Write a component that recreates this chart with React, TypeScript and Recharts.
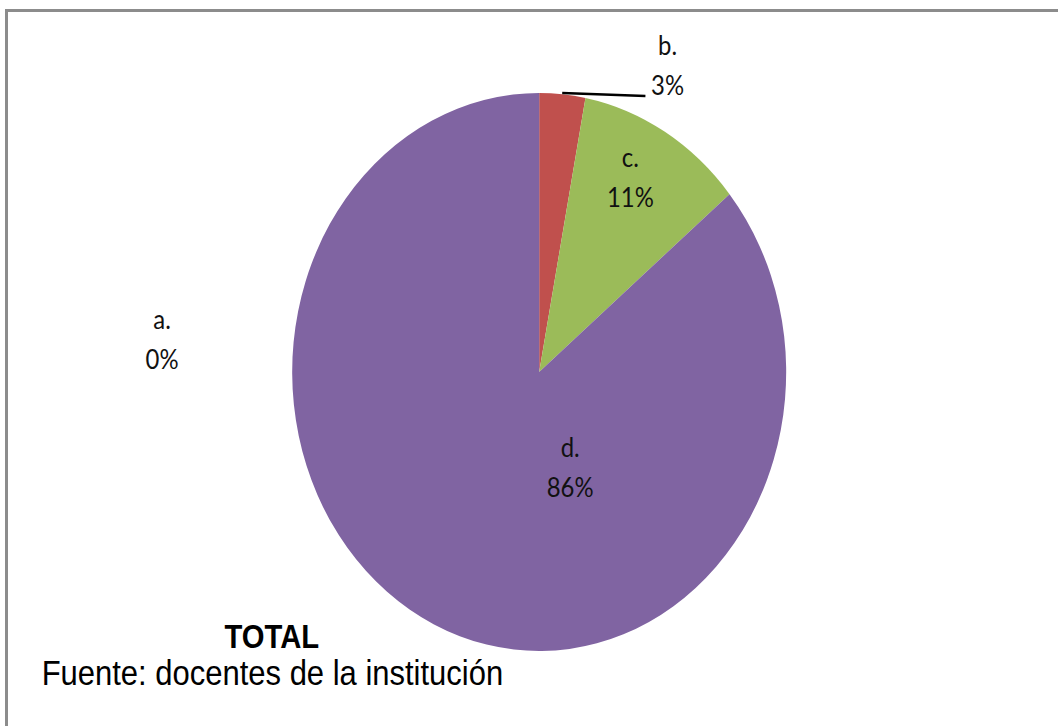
import { PieChart, Pie, Cell } from "recharts";

// answer options and their share of the total (%)
const CATEGORIES = ["a.", "b.", "c.", "d."];
const SHARES = [0, 3, 11, 86];

const COLORS = ["#4F81BD", "#C0504D", "#9BBB59", "#8064A2"];

// the original is squeezed horizontally, so the whole chart is drawn wide and scaled back
const SQUEEZE = 247 / 279;
const CHART_W = Math.round(1050 / SQUEEZE);
const CHART_H = 700;
const RADIUS = 279;

// where each label block sits, relative to the pie centre (unscaled units)
const LABEL_OFFSETS: Record<string, { dx: number; dy: number }> = {
  "a.": { dx: -426, dy: -43 },
  "b.": { dx: 145, dy: -317 },
  "c.": { dx: 103, dy: -205 },
  "d.": { dx: 35, dy: 85 },
};

const data = CATEGORIES.map((name, i) => ({ name, value: SHARES[i] }));

const LABEL_FONT = "Lato, 'Open Sans', sans-serif";

function renderLabel(props: any) {
  const { cx, cy, index } = props;
  const item = data[index];
  const off = LABEL_OFFSETS[item.name];
  const x = cx + off.dx;
  const y = cy + off.dy;
  return (
    <g key={`lbl-${index}`}>
      {item.name === "b." && (
        <line
          x1={cx + 26}
          y1={cy - RADIUS}
          x2={cx + 120}
          y2={cy - RADIUS + 3}
          stroke="#000"
          strokeWidth={2.5}
        />
      )}
      <text
        x={x}
        y={y}
        textAnchor="middle"
        fontFamily={LABEL_FONT}
        fontSize={27}
        fill="#111"
      >
        {item.name}
      </text>
      <text
        x={x}
        y={y + 40}
        textAnchor="middle"
        fontFamily={LABEL_FONT}
        fontSize={27}
        fill="#111"
      >
        {item.value}%
      </text>
    </g>
  );
}

export default function App() {
  return (
    <div
      style={{
        position: "fixed",
        left: 5,
        top: 9,
        width: 1053,
        height: 717,
        background: "#fff",
        overflow: "hidden",
      }}
    >
      <div style={{ position: "absolute", left: 0, top: 0, width: 1053, height: 3, background: "#8c8c8c" }} />
      <div style={{ position: "absolute", left: 0, top: 0, width: 3, height: 717, background: "#8c8c8c" }} />
      <div
        style={{
          position: "absolute",
          left: 3,
          top: 3,
          width: CHART_W,
          height: CHART_H,
          transform: `scaleX(${SQUEEZE})`,
          transformOrigin: "0 0",
        }}
      >
        <PieChart width={CHART_W} height={CHART_H} margin={{ top: 0, right: 0, bottom: 0, left: 0 }}>
          <Pie
            data={data}
            dataKey="value"
            nameKey="name"
            cx={600}
            cy={360}
            outerRadius={RADIUS}
            startAngle={90}
            endAngle={-270}
            stroke="none"
            label={renderLabel}
            labelLine={false}
            isAnimationActive={false}
          >
            {data.map((_, i) => (
              <Cell key={i} fill={COLORS[i]} />
            ))}
          </Pie>
          <text
            x={298}
            y={636}
            textAnchor="middle"
            fontFamily="'Liberation Sans', Arial, sans-serif"
            fontWeight="bold"
            fontSize={33}
            fill="#000"
          >
            TOTAL
          </text>
          <text
            x={38}
            y={673}
            fontFamily="'Liberation Sans', Arial, sans-serif"
            fontSize={35}
            fill="#000"
          >
            Fuente: docentes de la institución
          </text>
        </PieChart>
      </div>
    </div>
  );
}
